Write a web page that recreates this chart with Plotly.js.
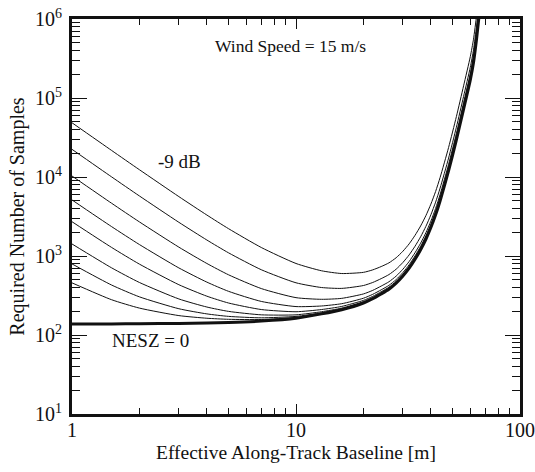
<!DOCTYPE html>
<html>
<head>
<meta charset="utf-8">
<script src="https://cdn.plot.ly/plotly-3.0.1.min.js"></script>
<style>
  html, body { margin: 0; padding: 0; background: #fff; }
  #chart { width: 535px; height: 472px; }
</style>
</head>
<body>
<div id="chart"></div>
<script>
// Effective along-track baseline [m]
const baseline = [1, 1.5, 2, 3, 4, 5, 7, 10, 13, 16, 20, 22, 24, 26, 28, 30, 32, 34, 36, 38, 40, 42, 44, 48, 52, 56, 60, 62, 64, 66];

// NESZ = 0 (bold curve)
const nesz0 = [138, 138, 139, 140, 142, 144, 150, 163, 185, 209, 254, 288, 331, 380, 452, 556, 700, 908, 1202, 1629, 2291, 3319, 5012, 12020, 29510, 72440, 169800, 281800, 562300, 1259000];

// thin curves, from -9 dB (top) downwards in 3 dB steps
const neszM9  = [48600, 21750, 12360, 5645, 3300, 2216, 1281, 804, 650, 600, 621, 667, 735, 819, 951, 1148, 1425, 1829, 2399, 3239, 4537, 6559, 9885, 23676, 58094, 142577, 334166, 554582, 1106606, 2477700];
const neszM12 = [22400, 10065, 5751, 2669, 1593, 1096, 670, 458, 399, 389, 423, 462, 517, 582, 681, 828, 1033, 1331, 1751, 2369, 3323, 4809, 7251, 17379, 42650, 104676, 245361, 407201, 812524, 1819255];
const neszM15 = [10300, 4668, 2700, 1294, 804, 578, 387, 297, 283, 291, 331, 367, 416, 472, 557, 680, 852, 1101, 1451, 1967, 2761, 3998, 6032, 14464, 35505, 87145, 204269, 339005, 676447, 1514577];
const neszM18 = [5122, 2361, 1396, 706, 467, 357, 266, 229, 233, 249, 292, 327, 373, 425, 503, 617, 775, 1003, 1323, 1795, 2521, 3652, 5512, 13219, 32449, 79655, 186712, 309867, 618305, 1384400];
const neszM21 = [2715, 1287, 789, 433, 310, 254, 210, 197, 210, 230, 274, 308, 353, 403, 479, 588, 739, 957, 1264, 1715, 2408, 3491, 5268, 12639, 31030, 76171, 178545, 296313, 591258, 1323839];
const neszM24 = [1420, 710, 462, 286, 226, 199, 180, 180, 197, 219, 264, 298, 342, 392, 465, 572, 719, 932, 1232, 1672, 2349, 3405, 5138, 12328, 30265, 74294, 174147, 289014, 576695, 1291230];
const neszM27 = [794, 430, 304, 215, 185, 172, 165, 172, 191, 214, 259, 293, 336, 386, 459, 564, 710, 920, 1216, 1651, 2320, 3363, 5076, 12177, 29897, 73389, 172024, 285492, 569666, 1275493];
const neszM30 = [457, 280, 219, 176, 163, 158, 157, 167, 188, 212, 256, 291, 334, 383, 455, 560, 705, 914, 1208, 1640, 2305, 3340, 5042, 12097, 29699, 72904, 170887, 283604, 565899, 1267058];

const thinSeries = [neszM9, neszM12, neszM15, neszM18, neszM21, neszM24, neszM27, neszM30];
const thinNames = ['-9 dB', '-12 dB', '-15 dB', '-18 dB', '-21 dB', '-24 dB', '-27 dB', '-30 dB'];

const xTickVals = [1, 10, 100];
const xTickText = ['1', '10', '100'];
const yTickVals = [10, 100, 1000, 10000, 100000, 1000000];
const yTickText = ['10<sup>1</sup>', '10<sup>2</sup>', '10<sup>3</sup>', '10<sup>4</sup>', '10<sup>5</sup>', '10<sup>6</sup>'];

function minorLog(lo, hi) {
  const v = [];
  for (let d = lo; d < hi; d++) {
    for (let k = 2; k <= 9; k++) v.push(k * Math.pow(10, d));
  }
  return v;
}

const FONT = 'Liberation Serif, Times New Roman, serif';
const INK = '#111';

const traces = thinSeries.map((s, i) => ({
  x: baseline, y: s, name: thinNames[i], type: 'scatter', mode: 'lines',
  line: {color: INK, width: 1, shape: 'spline', smoothing: 0.6},
  hoverinfo: 'skip', showlegend: false
}));
traces.push({
  x: baseline, y: nesz0, name: 'NESZ = 0', type: 'scatter', mode: 'lines',
  line: {color: INK, width: 3, shape: 'spline', smoothing: 0.6},
  hoverinfo: 'skip', showlegend: false
});

const layout = {
  width: 535, height: 472,
  margin: {l: 72, r: 15, t: 19, b: 58},
  paper_bgcolor: '#fff', plot_bgcolor: '#fff',
  font: {family: FONT, size: 18, color: INK},
  showlegend: false,
  xaxis: {
    type: 'log', range: [0, 2],
    tickmode: 'array', tickvals: xTickVals, ticktext: xTickText,
    ticks: 'inside', ticklen: 10, tickwidth: 1, tickcolor: INK,
    ticklabelstandoff: -4,
    showline: true, linewidth: 3, linecolor: INK, mirror: 'allticks',
    showgrid: false, zeroline: false,
    minor: {tickmode: 'array', tickvals: minorLog(0, 2), ticks: 'inside', ticklen: 6, tickwidth: 1, tickcolor: INK, showgrid: false},
    tickfont: {family: FONT, size: 20, color: INK},
    title: {text: 'Effective Along-Track Baseline [m]', font: {family: FONT, size: 19.5, color: INK}, standoff: 6}
  },
  yaxis: {
    type: 'log', range: [1, 6],
    tickmode: 'array', tickvals: yTickVals, ticktext: yTickText,
    ticks: 'inside', ticklen: 15, tickwidth: 1, tickcolor: INK,
    ticklabelstandoff: 3,
    showline: true, linewidth: 3, linecolor: INK, mirror: 'allticks',
    showgrid: false, zeroline: false,
    minor: {tickmode: 'array', tickvals: minorLog(1, 6), ticks: 'inside', ticklen: 8, tickwidth: 1, tickcolor: INK, showgrid: false},
    tickfont: {family: FONT, size: 20, color: INK},
    title: {text: 'Required Number of Samples', font: {family: FONT, size: 20, color: INK}, standoff: 6}
  },
  annotations: [
    {xref: 'paper', yref: 'paper', x: 0.487, y: 0.932, xanchor: 'center', yanchor: 'middle',
     text: 'Wind Speed = 15 m/s', showarrow: false, font: {family: FONT, size: 17.5, color: INK}},
    {xref: 'paper', yref: 'paper', x: 0.240, y: 0.638, xanchor: 'center', yanchor: 'middle',
     text: '-9 dB', showarrow: false, font: {family: FONT, size: 19, color: INK}},
    {xref: 'paper', yref: 'paper', x: 0.176, y: 0.187, xanchor: 'center', yanchor: 'middle',
     text: 'NESZ = 0', showarrow: false, font: {family: FONT, size: 19, color: INK}}
  ]
};

Plotly.newPlot('chart', traces, layout, {displayModeBar: false, staticPlot: true});
</script>
</body>
</html>
